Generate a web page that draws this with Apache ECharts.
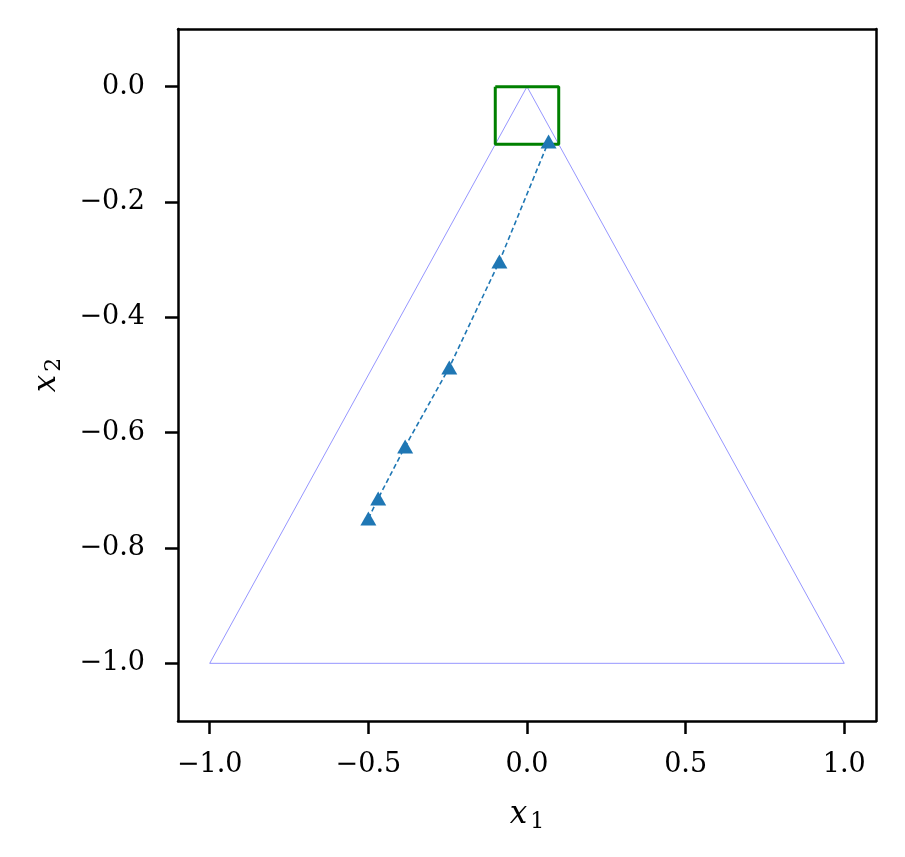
<!DOCTYPE html>
<html>
<head>
<meta charset="utf-8">
<script src="https://cdn.jsdelivr.net/npm/echarts@6/dist/echarts.min.js"></script>
<style>
  html, body { margin: 0; padding: 0; background: #fff; }
  #chart { width: 905px; height: 857px; }
</style>
</head>
<body>
<div id="chart"></div>
<script>
// iterate path
const pathX = [-0.5, -0.469, -0.384, -0.245, -0.087, 0.068]
const pathY = [-0.749, -0.714, -0.624, -0.487, -0.303, -0.095]

// feasible region (triangle) and box
const triX = [-1, 0, 1, -1]
const triY = [-1, 0, -1, -1]
const boxX = [-0.1, 0.1, 0.1, -0.1, -0.1]
const boxY = [0, 0, -0.1, -0.1, 0]

const xTicks = [-1.0, -0.5, 0.0, 0.5, 1.0]
const yTicks = [0.0, -0.2, -0.4, -0.6, -0.8, -1.0]

const zip = (xs, ys) => xs.map((x, i) => [x, ys[i]])
const fmt = v => v.toFixed(1).replace('-', '\u2212')

const font = 'DejaVu Serif'
const labelStyle = { color: '#000', fontFamily: font, fontSize: 27 }
const nameRich = {
  i: { fontFamily: font, fontStyle: 'italic', fontSize: 31, color: '#000' },
  s: { fontFamily: font, fontSize: 22, color: '#000', verticalAlign: 'bottom', padding: [14, 0, 0, 3] }
}
const frame = { show: true, onZero: false, lineStyle: { color: '#000', width: 2.5 } }
const ticks = vals => ({ show: true, customValues: vals, length: 13, lineStyle: { color: '#000', width: 2.5 } })
const bare = { axisLine: frame, axisTick: { show: false }, axisLabel: { show: false }, splitLine: { show: false } }

const chart = echarts.init(document.getElementById('chart'))

chart.setOption({
  animation: false,
  grid: { left: 178, right: 29, top: 29, bottom: 136 },
  xAxis: [{
    type: 'value',
    min: -1.1,
    max: 1.1,
    splitLine: { show: false },
    axisLine: frame,
    axisTick: ticks(xTicks),
    axisLabel: { customValues: xTicks, formatter: fmt, margin: 30, ...labelStyle },
    name: '{i|x}{s|1}',
    nameLocation: 'middle',
    nameGap: 76,
    nameTextStyle: { rich: nameRich }
  }, {
    type: 'value', position: 'top', min: -1.1, max: 1.1, ...bare
  }],
  yAxis: [{
    type: 'value',
    min: -1.1,
    max: 0.1,
    splitLine: { show: false },
    axisLine: frame,
    axisTick: ticks(yTicks),
    axisLabel: { customValues: yTicks, formatter: fmt, margin: 33, ...labelStyle },
    name: '{i|x}{s|2}',
    nameLocation: 'middle',
    nameGap: 113,
    nameRotate: 90,
    nameTextStyle: { rich: nameRich }
  }, {
    type: 'value', position: 'right', min: -1.1, max: 0.1, ...bare
  }],
  series: [
    {
      type: 'line',
      data: zip(triX, triY),
      symbol: 'none',
      lineStyle: { color: '#0000ff', width: 0.6, opacity: 0.7 },
      z: 1
    },
    {
      type: 'line',
      data: zip(boxX, boxY),
      symbol: 'none',
      lineStyle: { color: '#008000', width: 3 },
      z: 2
    },
    {
      type: 'line',
      data: zip(pathX, pathY),
      symbol: 'triangle',
      symbolSize: [16, 14],
      itemStyle: { color: '#1f77b4' },
      lineStyle: { color: '#1f77b4', width: 1.6, type: [5, 3] },
      z: 3
    }
  ]
})
</script>
</body>
</html>
